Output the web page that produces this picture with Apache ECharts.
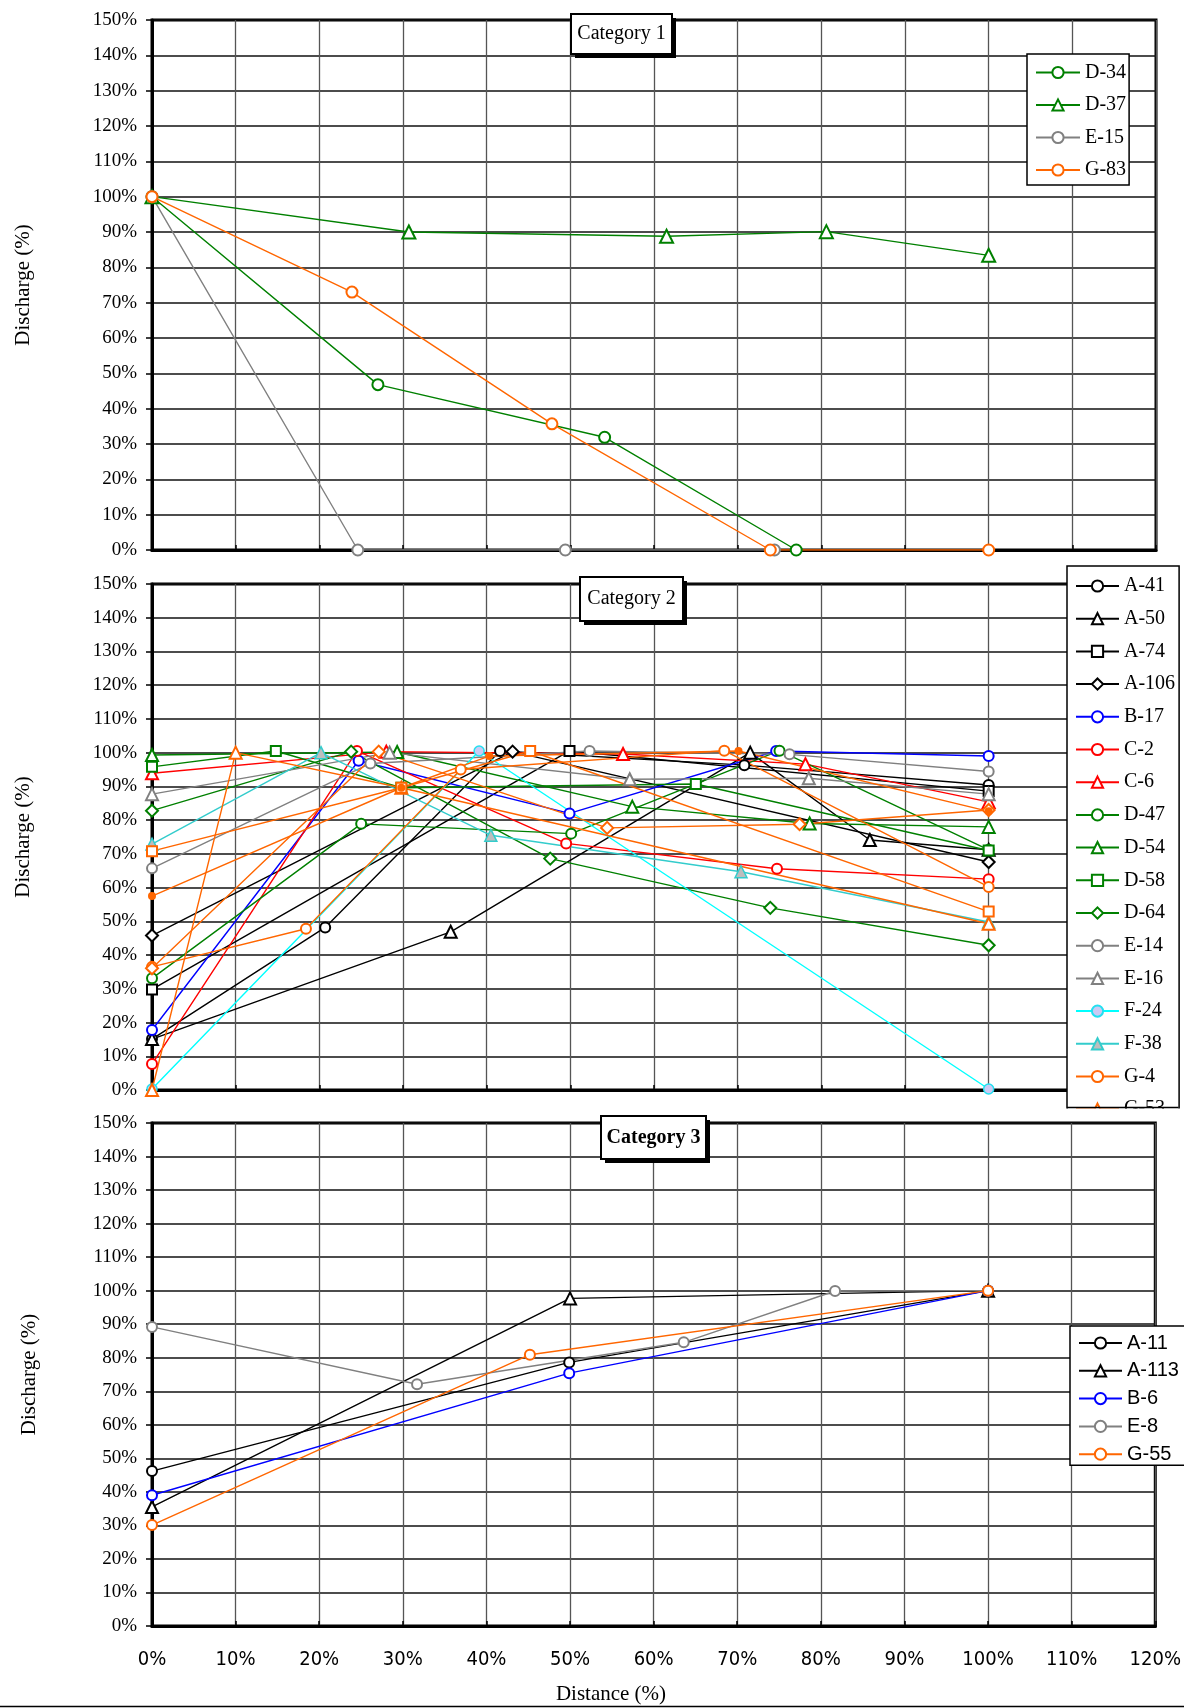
<!DOCTYPE html>
<html>
<head>
<meta charset="utf-8">
<script src="https://cdn.jsdelivr.net/npm/echarts/dist/echarts.min.js"></script>
<style>
  html, body { margin: 0; padding: 0; background: #fff; }
  #chart { width: 1184px; height: 1708px; }
</style>
</head>
<body>
<div id="chart"></div>
<script>
// Relative discharge (%) along relative distance (%) for three categories of streams.
const SERIF = '"Liberation Serif","Times New Roman",serif';
const SANS = '"Liberation Sans",Arial,sans-serif';
const NARROW = '"Liberation Sans Narrow","DejaVu Sans Condensed","Liberation Sans",Arial,sans-serif';

// Axis ticks (percent)
const xTicks = [0, 10, 20, 30, 40, 50, 60, 70, 80, 90, 100, 110, 120];
const yTicks = [0, 10, 20, 30, 40, 50, 60, 70, 80, 90, 100, 110, 120, 130, 140, 150];

// Category 1  — [distance %, discharge %]
const d34 = [[0, 100], [27.0, 46.8], [54.1, 31.9], [77.0, 0]];
const d37 = [[0, 100], [30.7, 90.0], [61.5, 88.8], [80.6, 90.1], [100, 83.4]];
const e15 = [[0, 100], [24.6, 0], [49.4, 0], [74.4, 0]];
const g83 = [[0, 100], [23.9, 73.0], [47.8, 35.7], [73.9, 0], [100, 0]];

// Category 2
const a41 = [[0, 15.1], [20.7, 48.2], [41.6, 100.5], [70.8, 96.3], [100, 90.4]];
const a50 = [[0, 15.1], [35.7, 46.9], [71.5, 100], [85.8, 74.1], [100, 71.2]];
const a74 = [[0, 29.8], [49.9, 100.5], [100, 88.6]];
const a106 = [[0, 45.8], [43.1, 100.3], [100, 67.6]];
const b17 = [[0, 17.8], [24.7, 97.6], [49.9, 82.0], [74.6, 100.5], [100, 99.0]];
const c2 = [[0, 7.7], [24.5, 100.5], [49.5, 73.1], [74.7, 65.6], [100, 62.5]];
const c6 = [[0, 93.9], [28.0, 100.3], [56.3, 99.6], [78.1, 96.6], [100, 85.4]];
const d47 = [[0, 33.1], [25.0, 78.9], [50.1, 76.0], [75.0, 100.6], [100, 71.2]];
const d54 = [[0, 99.3], [29.3, 100.2], [57.4, 84.0], [78.6, 79.0], [100, 78.0]];
const d58 = [[0, 95.8], [14.8, 100.5], [29.8, 89.6], [65.0, 90.7], [100, 71.0]];
const d64 = [[0, 82.8], [23.8, 100.3], [47.6, 68.6], [73.9, 54.0], [100, 42.9]];
const e14 = [[0, 65.7], [26.1, 96.8], [52.3, 100.5], [76.2, 99.5], [100, 94.4]];
const e16 = [[0, 87.7], [28.4, 100], [57.1, 92.1], [78.5, 92.4], [100, 87.7]];
const f24 = [[0, 0.3], [39.1, 100.5], [100, 0.3]];
const f38 = [[0, 72.9], [20.2, 100], [40.5, 75.5], [70.4, 64.7], [100, 49.8]];
const g4 = [[0, 36.5], [18.4, 47.8], [36.9, 95.0], [68.4, 100.6], [100, 60.2]];
const g53 = [[0, 0], [10, 100], [29.8, 89.6], [100, 49.3]];
const g61 = [[0, 70.8], [29.8, 89.6], [45.2, 100.5], [100, 52.9]];
const g66 = [[0, 36.1], [27.1, 100.3], [54.4, 77.7], [77.4, 78.8], [100, 83.0]];
const g75 = [[0, 57.5], [29.8, 89.6], [40.3, 99.0], [70.1, 100.5], [100, 82.6]];

// Category 3
const a11 = [[0, 46.2], [49.9, 78.6], [100, 100]];
const a113 = [[0, 35.5], [50, 97.7], [100, 100]];
const b6 = [[0, 39.0], [49.9, 75.4], [100, 100]];
const e8 = [[0, 89.2], [31.7, 72.1], [63.6, 84.6], [81.7, 99.9], [100, 100]];
const g55 = [[0, 30.1], [45.2, 80.9], [100, 100]];

const legend1 = ['D-34', 'D-37', 'E-15', 'G-83'];
const legend2 = ['A-41', 'A-50', 'A-74', 'A-106', 'B-17', 'C-2', 'C-6', 'D-47', 'D-54',
                 'D-58', 'D-64', 'E-14', 'E-16', 'F-24', 'F-38', 'G-4', 'G-53'];
const legend3 = ['A-11', 'A-113', 'B-6', 'E-8', 'G-55'];

const GREEN = '#008000', GRAY = '#808080', ORANGE = '#ff6600', RED = '#ff0000',
      BLUE = '#0000ff', BLACK = '#000000', CYAN = '#00ffff', TEAL = '#33cccc';

function line(name, data, panel, color, symbol, size, extra) {
  const s = {
    name, type: 'line', data,
    xAxisIndex: panel, yAxisIndex: panel,
    symbol, symbolSize: size, showSymbol: true,
    color,
    lineStyle: { color, width: 1.4 },
    itemStyle: { color, borderWidth: 1.5 },
    emphasis: { disabled: true },
    animation: false
  };
  return Object.assign(s, extra || {});
}

const series = [
  line('D-34', d34, 0, GREEN, 'emptyCircle', 11),
  line('D-37', d37, 0, GREEN, 'emptyTriangle', 13),
  line('E-15', e15, 0, GRAY, 'emptyCircle', 11),
  line('G-83', g83, 0, ORANGE, 'emptyCircle', 11),

  line('A-41', a41, 1, BLACK, 'emptyCircle', 10),
  line('A-50', a50, 1, BLACK, 'emptyTriangle', 12),
  line('A-74', a74, 1, BLACK, 'emptyRect', 10),
  line('A-106', a106, 1, BLACK, 'emptyDiamond', 12),
  line('B-17', b17, 1, BLUE, 'emptyCircle', 10),
  line('C-2', c2, 1, RED, 'emptyCircle', 10),
  line('C-6', c6, 1, RED, 'emptyTriangle', 12),
  line('D-47', d47, 1, GREEN, 'emptyCircle', 10),
  line('D-54', d54, 1, GREEN, 'emptyTriangle', 12),
  // squares of D-58 sit on top of the orange lines that meet at 30 %
  line('D-58', d58, 1, GREEN, 'emptyRect', 10, { z: 3 }),
  line('D-64', d64, 1, GREEN, 'emptyDiamond', 12),
  line('E-14', e14, 1, GRAY, 'emptyCircle', 10),
  line('E-16', e16, 1, GRAY, 'emptyTriangle', 12),
  line('F-24', f24, 1, CYAN, 'circle', 10, {
    lineStyle: { color: CYAN, width: 1.4 },
    itemStyle: { color: '#cacaf4', borderColor: '#22e0f0', borderWidth: 1.5 }
  }),
  line('F-38', f38, 1, TEAL, 'triangle', 12, {
    lineStyle: { color: TEAL, width: 1.4 },
    itemStyle: { color: '#bdbdbd', borderColor: TEAL, borderWidth: 1.5 }
  }),
  line('G-4', g4, 1, ORANGE, 'emptyCircle', 10),
  line('G-53', g53, 1, ORANGE, 'emptyTriangle', 12),
  line('G-61', g61, 1, ORANGE, 'emptyRect', 10),
  line('G-66', g66, 1, ORANGE, 'emptyDiamond', 12),
  line('G-75', g75, 1, ORANGE, 'circle', 8),

  line('A-11', a11, 2, BLACK, 'emptyCircle', 10),
  line('A-113', a113, 2, BLACK, 'emptyTriangle', 12),
  line('B-6', b6, 2, BLUE, 'emptyCircle', 10),
  line('E-8', e8, 2, GRAY, 'emptyCircle', 10),
  line('G-55', g55, 2, ORANGE, 'emptyCircle', 10)
];

// Plot areas (px)
const PL = 152, PW = 1004;
const grids = [
  { left: PL, top: 20, width: PW, height: 530 },
  { left: PL, top: 584, width: PW, height: 506 },
  { left: PL, top: 1123, width: PW, height: 503 }
].map(g => Object.assign(g, {
  show: true, borderColor: '#000', borderWidth: 3, backgroundColor: '#fff', containLabel: false
}));

const xAxes = [0, 1, 2].map(i => ({
  type: 'value', gridIndex: i, min: xTicks[0], max: xTicks[xTicks.length - 1], interval: 10,
  axisLine: { show: true, onZero: false, lineStyle: { color: '#000', width: 3 } },
  axisTick: { show: true, inside: true, length: 5, lineStyle: { color: '#000', width: 1.5 } },
  axisLabel: {
    show: i === 2, margin: 24, formatter: '{value}%',
    fontFamily: NARROW, fontSize: 20, color: '#000'
  },
  splitLine: { show: true, lineStyle: { color: '#555', width: 1.3 } }
}));

const yAxes = [0, 1, 2].map(i => ({
  type: 'value', gridIndex: i, min: yTicks[0], max: yTicks[yTicks.length - 1], interval: 10,
  name: 'Discharge (%)', nameLocation: 'middle', nameGap: i === 2 ? 112 : 118,
  nameTextStyle: { fontFamily: SERIF, fontSize: 21, color: '#000' },
  axisLine: { show: true, onZero: false, lineStyle: { color: '#000', width: 3 } },
  axisTick: { show: true, length: 6, lineStyle: { color: '#000', width: 1.5 } },
  axisLabel: { margin: 15, formatter: '{value}%', fontFamily: SERIF, fontSize: 19, color: '#000' },
  splitLine: { show: true, lineStyle: { color: '#111', width: 1.6 } }
}));

const legendBase = {
  orient: 'vertical', selectedMode: false, itemHeight: 14,
  borderColor: '#000', borderWidth: 1.5, backgroundColor: '#fff', borderRadius: 0
};
const legends = [
  Object.assign({}, legendBase, {
    left: 1027, top: 54, padding: [8.5, 3, 5, 8], itemWidth: 44, itemGap: 12.5, data: legend1,
    textStyle: { fontFamily: SERIF, fontSize: 20, lineHeight: 20, color: '#000' }
  }),
  Object.assign({}, legendBase, {
    left: 1067, top: 566, padding: [10, 4, 0, 8], itemWidth: 43, itemGap: 12.7, data: legend2,
    textStyle: { fontFamily: SERIF, fontSize: 20, lineHeight: 20, color: '#000' }
  }),
  Object.assign({}, legendBase, {
    left: 1070, top: 1326, padding: [7, 10, 1, 8], itemWidth: 43, itemGap: 7.8, data: legend3,
    textStyle: { fontFamily: SANS, fontSize: 20, lineHeight: 20, color: '#000' }
  })
];

function titleBox(x, y, w, h, text, bold) {
  return [
    { type: 'rect', z: 100, shape: { x: x + 4, y: y + 4, width: w, height: h }, style: { fill: '#000' } },
    { type: 'rect', z: 101, shape: { x, y, width: w, height: h }, style: { fill: '#fff', stroke: '#000', lineWidth: 2 } },
    { type: 'text', z: 102, x: x + w / 2, y: y + h / 2,
      style: { text, fill: '#000', font: (bold ? 'bold ' : '') + '20px ' + SERIF,
               textAlign: 'center', textVerticalAlign: 'middle', align: 'center', verticalAlign: 'middle' } }
  ];
}

const graphics = [].concat(
  titleBox(571, 14, 101, 40, 'Category 1', false),
  titleBox(580, 577, 103, 44, 'Category 2', false),
  titleBox(601, 1116, 105, 43, 'Category 3', true),
  [
    // the Category 2 key is cut off where the third plot begins
    { type: 'rect', z: 100, shape: { x: 1058, y: 1108.5, width: 126, height: 12.5 }, style: { fill: '#fff' } },
    { type: 'line', z: 101, shape: { x1: 1067, y1: 1107.5, x2: 1178.5, y2: 1107.5 }, style: { stroke: '#000', lineWidth: 1.5 } },
    { type: 'text', z: 102, x: 611, y: 1694,
      style: { text: 'Distance (%)', fill: '#000', font: '21px ' + SERIF,
               textAlign: 'center', textVerticalAlign: 'middle', align: 'center', verticalAlign: 'middle' } },
    { type: 'line', z: 101, shape: { x1: 0, y1: 1706.5, x2: 1184, y2: 1706.5 }, style: { stroke: '#000', lineWidth: 1.5 } }
  ]
);

const chart = echarts.init(document.getElementById('chart'), null, { renderer: 'canvas' });
chart.setOption({
  backgroundColor: '#fff',
  animation: false,
  grid: grids,
  xAxis: xAxes,
  yAxis: yAxes,
  legend: legends,
  series,
  graphic: graphics
});
</script>
</body>
</html>
